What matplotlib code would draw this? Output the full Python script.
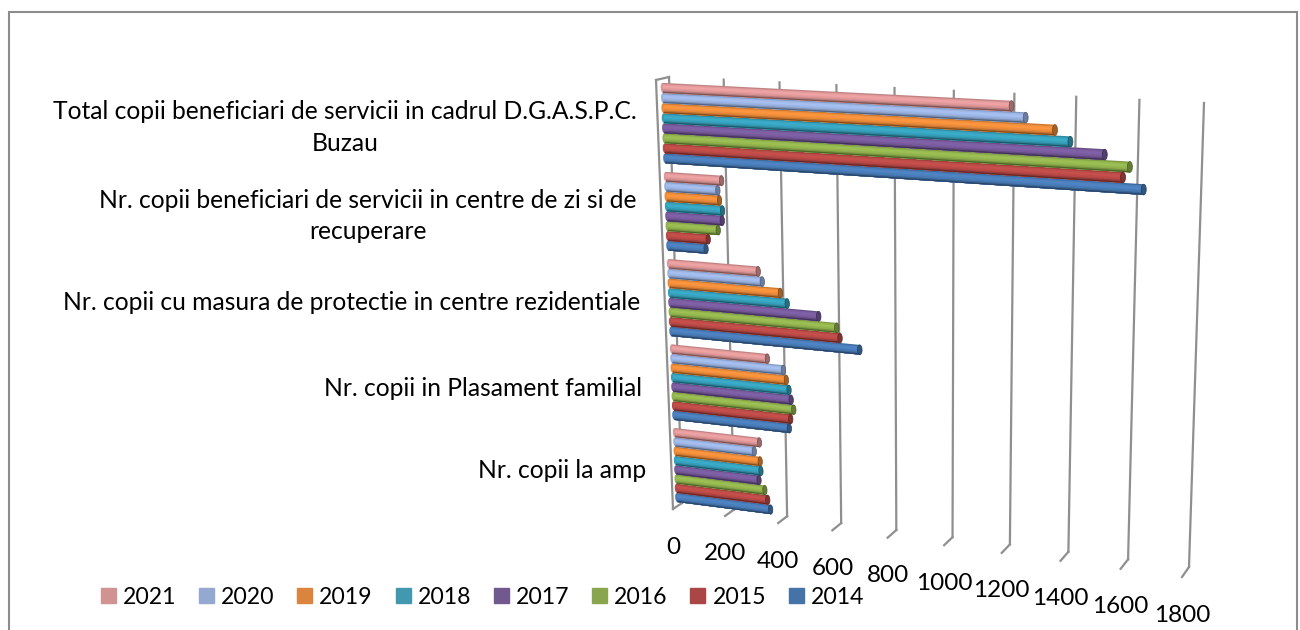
import numpy as np
import matplotlib
matplotlib.use('Agg')
import matplotlib.pyplot as plt
import matplotlib.transforms as mtransforms
from matplotlib.patches import Ellipse, Patch

plt.rcParams['font.family'] = ['Lato', 'DejaVu Sans']

# bottom to top, as the axis runs
categories = ['Nr. copii la amp',
              'Nr. copii in Plasament familial',
              'Nr. copii cu masura de protectie in centre rezidentiale',
              'Nr. copii beneficiari de servicii in centre de zi si de\nrecuperare',
              'Total copii beneficiari de servicii in cadrul D.G.A.S.P.C.\nBuzau']
years = ['2014', '2015', '2016', '2017', '2018', '2019', '2020', '2021']
v2014 = [356, 432, 692, 141, 1637]
v2015 = [346, 438, 622, 150, 1571]
v2016 = [336, 450, 611, 188, 1592]
v2017 = [315, 441, 547, 204, 1512]
v2018 = [323, 434, 434, 206, 1402]
v2019 = [321, 425, 410, 196, 1352]
v2020 = [300, 415, 345, 191, 1257]
v2021 = [320, 357, 331, 206, 1211]
series = [v2014, v2015, v2016, v2017, v2018, v2019, v2020, v2021]
value_ticks = [0, 200, 400, 600, 800, 1000, 1200, 1400, 1600, 1800]

bar_colors = ['#4a7ebb', '#bd4b48', '#94b64f', '#7a5ca0', '#37a3bf', '#f08e3b', '#9db6e5', '#e39a9b']
legend_colors = ['#4572a7', '#aa4643', '#89a54e', '#71588f', '#4198af', '#db843d', '#93a9cf', '#d19392']
strip_shade = [0.85, 1.0, 1.05, 1.05, 1.0, 0.95, 0.8, 0.55]


class Homography(mtransforms.Transform):
    # maps (value, category position) onto picture pixels
    input_dims = 2
    output_dims = 2

    def __init__(self, corners):
        super().__init__()
        src = [(0, 0), (1800, 0), (1800, 5), (0, 5)]
        A, b = [], []
        for (x, y), (u, v) in zip(src, corners):
            A.append([x, y, 1, 0, 0, 0, -u * x, -u * y])
            A.append([0, 0, 0, x, y, 1, -v * x, -v * y])
            b += [u, v]
        self.m = np.append(np.linalg.solve(np.array(A, float), np.array(b, float)), 1).reshape(3, 3)

    def transform_non_affine(self, values):
        values = np.asarray(values, float)
        p = np.column_stack([values, np.ones(len(values))]) @ self.m.T
        return p[:, :2] / p[:, 2:]


def shade(color, f):
    r = np.array(matplotlib.colors.to_rgb(color)) * f
    return tuple(np.clip(r, 0, 1))


# corners: v=0 bottom, v=1800 bottom, v=1800 top, v=0 top
back_corners = [(682, 503), (1189, 567), (1204, 103), (669, 77)]
front_corners = [(673, 509), (1182, 577), (1193, 108), (656, 80)]
mid_corners = [(677.5, 506), (1185.5, 572), (1198.5, 105.5), (662.5, 78.5)]

fig = plt.figure(figsize=(13, 6.3), dpi=100, facecolor='white')
ax = fig.add_axes([0, 0, 1, 1])
ax.set_xlim(0, 1300)
ax.set_ylim(630, 0)
ax.axis('off')
ax.autoscale(False)

back = Homography(back_corners)
front = Homography(front_corners)
mid = Homography(mid_corners)
tr_back = back + ax.transData
tr_front = front + ax.transData
tr_mid = mid + ax.transData

grid_color = '#8f8f8f'

# outer frame of the chart area
ax.plot([9, 9, 1297, 1297], [640, 12, 12, 640], color='#8c8c8c', lw=1.5, solid_joinstyle='miter')

# back wall, floor ticks and left wall
for v in value_ticks:
    ax.plot([v, v], [0, 5], color=grid_color, lw=1.6, transform=tr_back, zorder=2)
    p0 = back.transform((v, 0))
    p1 = front.transform((v, 0))
    ax.plot([p0[0], p1[0]], [p0[1], p1[1]], color=grid_color, lw=1.6, zorder=2)
    ax.text(p1[0], p1[1] + 38, str(v), ha='center', va='center', fontsize=17.5, color='black')

ax.plot([0, 0], [0, 5], color=grid_color, lw=1.6, transform=tr_front, zorder=2)
ptop0 = back.transform((0, 5))
ptop1 = front.transform((0, 5))
ax.plot([ptop0[0], ptop1[0]], [ptop0[1], ptop1[1]], color=grid_color, lw=1.6, zorder=2)

# bars: each cylinder is painted top to bottom, every layer reaching the lower edge
pitch = 0.113
thick = 0.112
n_strip = len(strip_shade)
z = 3
for s, vals in reversed(list(enumerate(series))):
    col = bar_colors[s]
    for i, val in enumerate(vals):
        yc = i + 0.5 + (s - 3.5) * pitch
        ax.add_patch(Ellipse((0, yc), 16, thick, color=shade(col, 0.98), lw=0, transform=tr_mid, zorder=z))
        for k, f in enumerate(strip_shade):
            top = yc + thick / 2 - k * thick / n_strip
            h = top - (yc - thick / 2)
            ax.barh(top - h / 2, val, height=h, left=0, color=shade(col, f), linewidth=0,
                    transform=tr_mid, zorder=z + 0.1 + k * 0.01)
        ax.add_patch(Ellipse((val, yc), 16, thick, facecolor=shade(col, 0.68), edgecolor=shade(col, 0.5),
                             linewidth=0.5, transform=tr_mid, zorder=z + 0.2))

# category labels
ax.text(345, 127.5, categories[4], ha='center', va='center', fontsize=17.7, linespacing=1.45)
ax.text(368, 216, categories[3], ha='center', va='center', fontsize=17.7, linespacing=1.45)
ax.text(640, 303, categories[2], ha='right', va='center', fontsize=17.7)
ax.text(642, 388, categories[1], ha='right', va='center', fontsize=17.7)
ax.text(646, 471, categories[0], ha='right', va='center', fontsize=17.7)

handles = [Patch(color=c, label=y) for c, y in zip(legend_colors[::-1], years[::-1])]
ax.legend(handles=handles, ncols=8, loc='center left', bbox_to_anchor=(101, 597), bbox_transform=ax.transData,
          frameon=False, fontsize=16.6, handlelength=0.65, handleheight=0.65, handletextpad=0.3,
          columnspacing=0.99, borderpad=0, borderaxespad=0)

fig.savefig('out.png', dpi=100)
